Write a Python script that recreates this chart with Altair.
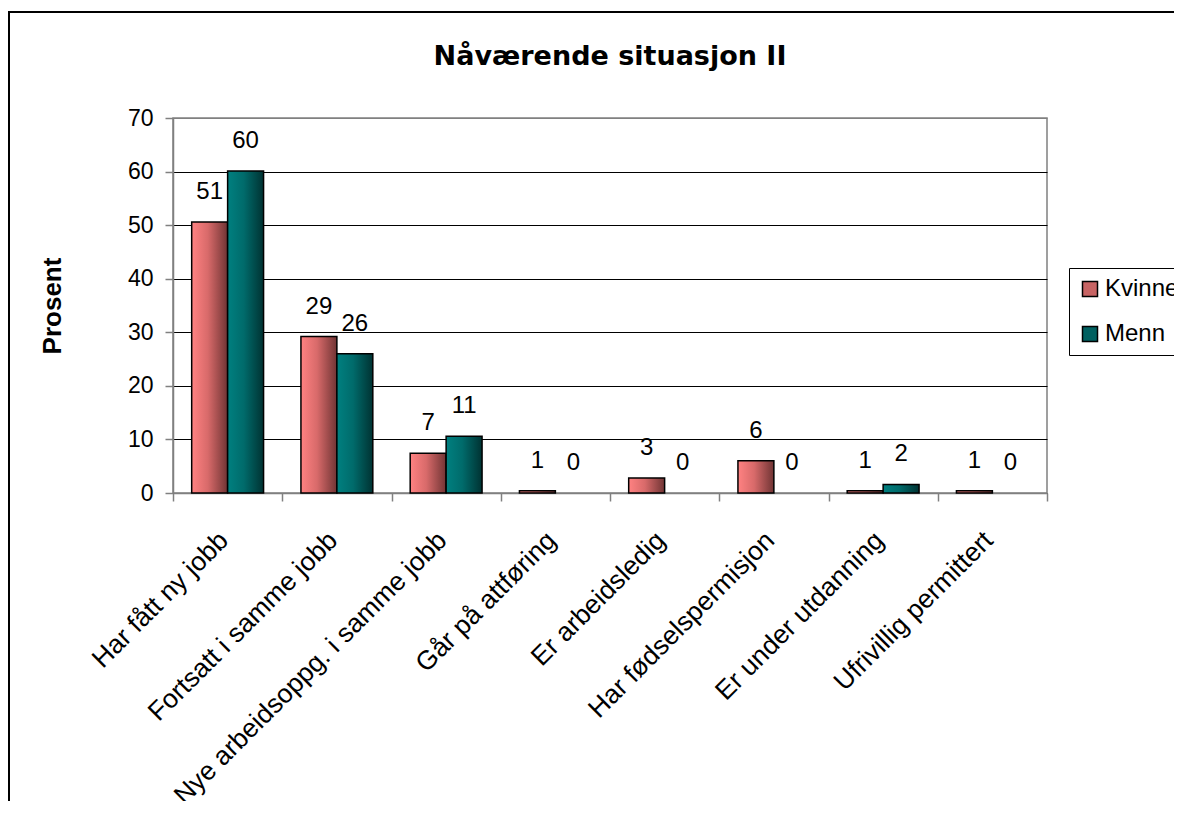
import altair as alt
import pandas as pd

FONT = "Liberation Sans"

categories = [
    "Har fått ny jobb",
    "Fortsatt i samme jobb",
    "Nye arbeidsoppg. i samme jobb",
    "Går på attføring",
    "Er arbeidsledig",
    "Har fødselspermisjon",
    "Er under utdanning",
    "Ufrivillig permittert",
]
series = ["Kvinner", "Menn"]
kvinner_values = [50.6, 29.2, 7.4, 0.4, 2.8, 6.0, 0.4, 0.4]
menn_values = [60.1, 26.0, 10.6, 0.0, 0.0, 0.0, 1.6, 0.0]
kvinner_labels = ["51", "29", "7", "1", "3", "6", "1", "1"]
menn_labels = ["60", "26", "11", "0", "0", "0", "2", "0"]
y_ticks = [0, 10, 20, 30, 40, 50, 60, 70]

rows = []
for i, c in enumerate(categories):
    rows.append({"kategori": c, "kjonn": "Kvinner", "verdi": kvinner_values[i], "etikett": kvinner_labels[i]})
    rows.append({"kategori": c, "kjonn": "Menn", "verdi": menn_values[i], "etikett": menn_labels[i]})
df = pd.DataFrame(rows)

stops_k = [("#FF8282", 0), ("#D86A6A", 0.45), ("#703434", 1)]
stops_m = [("#008080", 0), ("#006B6B", 0.45), ("#003232", 1)]

grad_k = alt.LinearGradient(
    gradient="linear", x1=0, x2=1, y1=0, y2=0,
    stops=[alt.GradientStop(color=c, offset=o) for c, o in stops_k],
)
grad_m = alt.LinearGradient(
    gradient="linear", x1=0, x2=1, y1=0, y2=0,
    stops=[alt.GradientStop(color=c, offset=o) for c, o in stops_m],
)

x_enc = alt.X(
    "kategori:N", sort=categories,
    scale=alt.Scale(paddingInner=0, paddingOuter=0),
    axis=alt.Axis(
        title=None, labelAngle=-45, labelAlign="right", labelBaseline="middle",
        labelFontSize=26.5, labelFont=FONT, labelColor="black", labelLimit=0,
        tickBand="extent", tickSize=8, labelPadding=35, labelOffset=-4,
        domainColor="#808080", tickColor="#808080", domainWidth=1.5, tickWidth=1.5,
        grid=False,
    ),
)
y_enc = alt.Y(
    "verdi:Q",
    scale=alt.Scale(domain=[0, 70], nice=False),
    axis=alt.Axis(
        values=y_ticks, title="Prosent", titleFontSize=26, titleFont=FONT,
        titleFontWeight="bold", titleColor="black", titlePadding=62,
        labelFontSize=23, labelFont=FONT, labelColor="black", labelPadding=12,
        tickSize=8, domainColor="#808080", tickColor="#808080",
        domainWidth=1.5, tickWidth=1.5,
        gridColor={"condition": {"test": "datum.value === 70", "value": "#808080"}, "value": "black"},
        gridWidth=1, grid=True,
    ),
)
xoff_enc = alt.XOffset(
    "kjonn:N", sort=series,
    scale=alt.Scale(domain=series, paddingInner=0, paddingOuter=0.52),
)

base = alt.Chart(df).encode(x=x_enc, y=y_enc, xOffset=xoff_enc)

bars_k = base.transform_filter(
    (alt.datum.kjonn == "Kvinner") & (alt.datum.verdi > 0)
).mark_bar(color=grad_k, stroke="black", strokeWidth=1.5)
bars_m = base.transform_filter(
    (alt.datum.kjonn == "Menn") & (alt.datum.verdi > 0)
).mark_bar(color=grad_m, stroke="black", strokeWidth=1.5)
texts = base.mark_text(dy=-30, fontSize=24, font=FONT, color="black").encode(
    text="etikett:N"
)
legend_layer = base.mark_square(size=0).encode(
    color=alt.Color(
        "kjonn:N",
        scale=alt.Scale(domain=series, range=["#C86464", "#006060"]),
        legend=alt.Legend(
            title=None, orient="none", legendX=896, legendY=150,
            strokeColor="black", fillColor="white", padding=9,
            symbolType="square", symbolSize=225, symbolStrokeColor="black",
            symbolStrokeWidth=1.5, symbolOpacity=1,
            labelFontSize=24, labelFont=FONT, labelColor="black",
            labelOffset=3, rowPadding=21, labelLimit=0,
        ),
    )
)

frame_df = pd.DataFrame({"f": [0]})
frame = alt.Chart(frame_df).mark_rect(
    filled=False, stroke="black", strokeWidth=2
).encode(
    x=alt.value(-164), x2=alt.value(1400), y=alt.value(-106), y2=alt.value(1000)
)

chart = alt.layer(bars_k, bars_m, texts, legend_layer, frame).properties(
    width=874,
    height=375,
    autosize=alt.AutoSizeParams(type="none"),
    padding={"left": 165, "top": 110, "right": 127, "bottom": 308},
    background="white",
    title=alt.TitleParams(
        "Nåværende situasjon II", fontSize=27, font="DejaVu Sans", fontWeight="bold",
        color="black", anchor="middle", frame="group", offset=-60,
    ),
).configure_view(stroke="#808080", strokeWidth=1.5)

chart.save("out.html", embed_options={"renderer": "svg", "actions": False})
